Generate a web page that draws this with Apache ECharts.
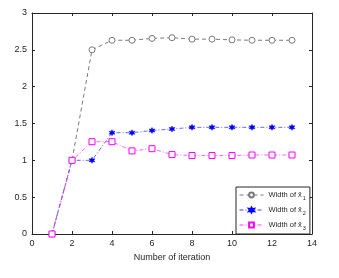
<!DOCTYPE html>
<html><head><meta charset="utf-8">
<script src="https://cdn.jsdelivr.net/npm/echarts@6/dist/echarts.min.js"></script>
<style>html,body{margin:0;padding:0;background:#fff}#c{width:339px;height:278px}</style>
</head><body><div id="c"></div>
<script>
const iterations = [1,2,3,4,5,6,7,8,9,10,11,12,13];
const widthX1 = [0,1,2.5,2.63,2.63,2.655,2.665,2.645,2.645,2.635,2.63,2.63,2.63];
const widthX2 = [0,1,1,1.375,1.375,1.405,1.425,1.448,1.448,1.448,1.448,1.448,1.448];
const widthX3 = [0,1,1.253,1.253,1.128,1.158,1.078,1.065,1.065,1.065,1.072,1.072,1.072];
const seriesNames = ['Width of x̄1','Width of x̄2','Width of x̄3'];
const subs = ['1','2','3'];

const pair = (ys) => iterations.map((x,i)=>[x, ys[i]]);
const star = 'path://M10 0 L12.5 5.67 L18.66 5 L15 10 L18.66 15 L12.5 14.33 L10 20 L7.5 14.33 L1.34 15 L5 10 L1.34 5 L7.5 5.67 Z';
const txt = '#262626';
const font = 'Liberation Sans, Arial, sans-serif';
const chart = echarts.init(document.getElementById('c'), null, {renderer:'canvas'});
const axisCommon = () => ({
  axisLine:{show:true, onZero:false, lineStyle:{color:txt, width:1}},
  axisTick:{show:true, inside:true, length:3, lineStyle:{color:txt}},
  splitLine:{show:false}
});
chart.setOption({
  animation:false,
  backgroundColor:'#fff',
  textStyle:{fontFamily:font},
  grid:{left:32, right:27, top:13, bottom:44, containLabel:false},
  xAxis:[
    Object.assign({type:'value', min:0, max:14, interval:2,
      name:'Number of iteration', nameLocation:'middle', nameGap:16,
      nameTextStyle:{color:txt, fontSize:9, fontFamily:font},
      axisLabel:{color:txt, fontSize:9, margin:5}}, axisCommon()),
    Object.assign({type:'value', position:'top', min:0, max:14, interval:2,
      axisLabel:{show:false}}, axisCommon())
  ],
  yAxis:[
    Object.assign({type:'value', min:0, max:3, interval:0.5,
      axisLabel:{color:txt, fontSize:9, margin:5}}, axisCommon()),
    Object.assign({type:'value', position:'right', min:0, max:3, interval:0.5,
      axisLabel:{show:false}}, axisCommon())
  ],
  legend:{
    orient:'vertical', left:236, top:187, width:70,
    padding:[4,4,3,3], itemGap:5, itemWidth:24, itemHeight:6,
    borderColor:txt, borderWidth:1, backgroundColor:'#fff',
    data:seriesNames,
    lineStyle:{width:1},
    formatter:(n)=>'Width of x̄{s|'+subs[seriesNames.indexOf(n)]+'}',
    textStyle:{color:txt, fontSize:7.5, fontFamily:font,
      rich:{s:{fontSize:5.5, verticalAlign:'bottom', padding:[6,0,0,1], color:txt}}}
  },
  series:[
    {name:seriesNames[0], type:'line', data:pair(widthX1), symbol:'circle', symbolSize:6,
      itemStyle:{color:'#fff', borderColor:'#7a7a7a', borderWidth:1},
      lineStyle:{color:'#7a7a7a', width:1, type:[4,3]}, z:2},
    {name:seriesNames[1], type:'line', data:pair(widthX2), symbol:star, symbolSize:6,
      itemStyle:{color:'#0000ff', borderColor:'#0000ff', borderWidth:0.5},
      lineStyle:{color:'#4040ff', width:0.8, type:[4,2,1,2]}, z:3},
    {name:seriesNames[2], type:'line', data:pair(widthX3), symbol:'rect', symbolSize:6,
      itemStyle:{color:'#fff', borderColor:'#ff00ff', borderWidth:1},
      lineStyle:{color:'#ff40ff', width:0.8, type:[4,2,1,2]}, z:4}
  ]
});
</script></body></html>
